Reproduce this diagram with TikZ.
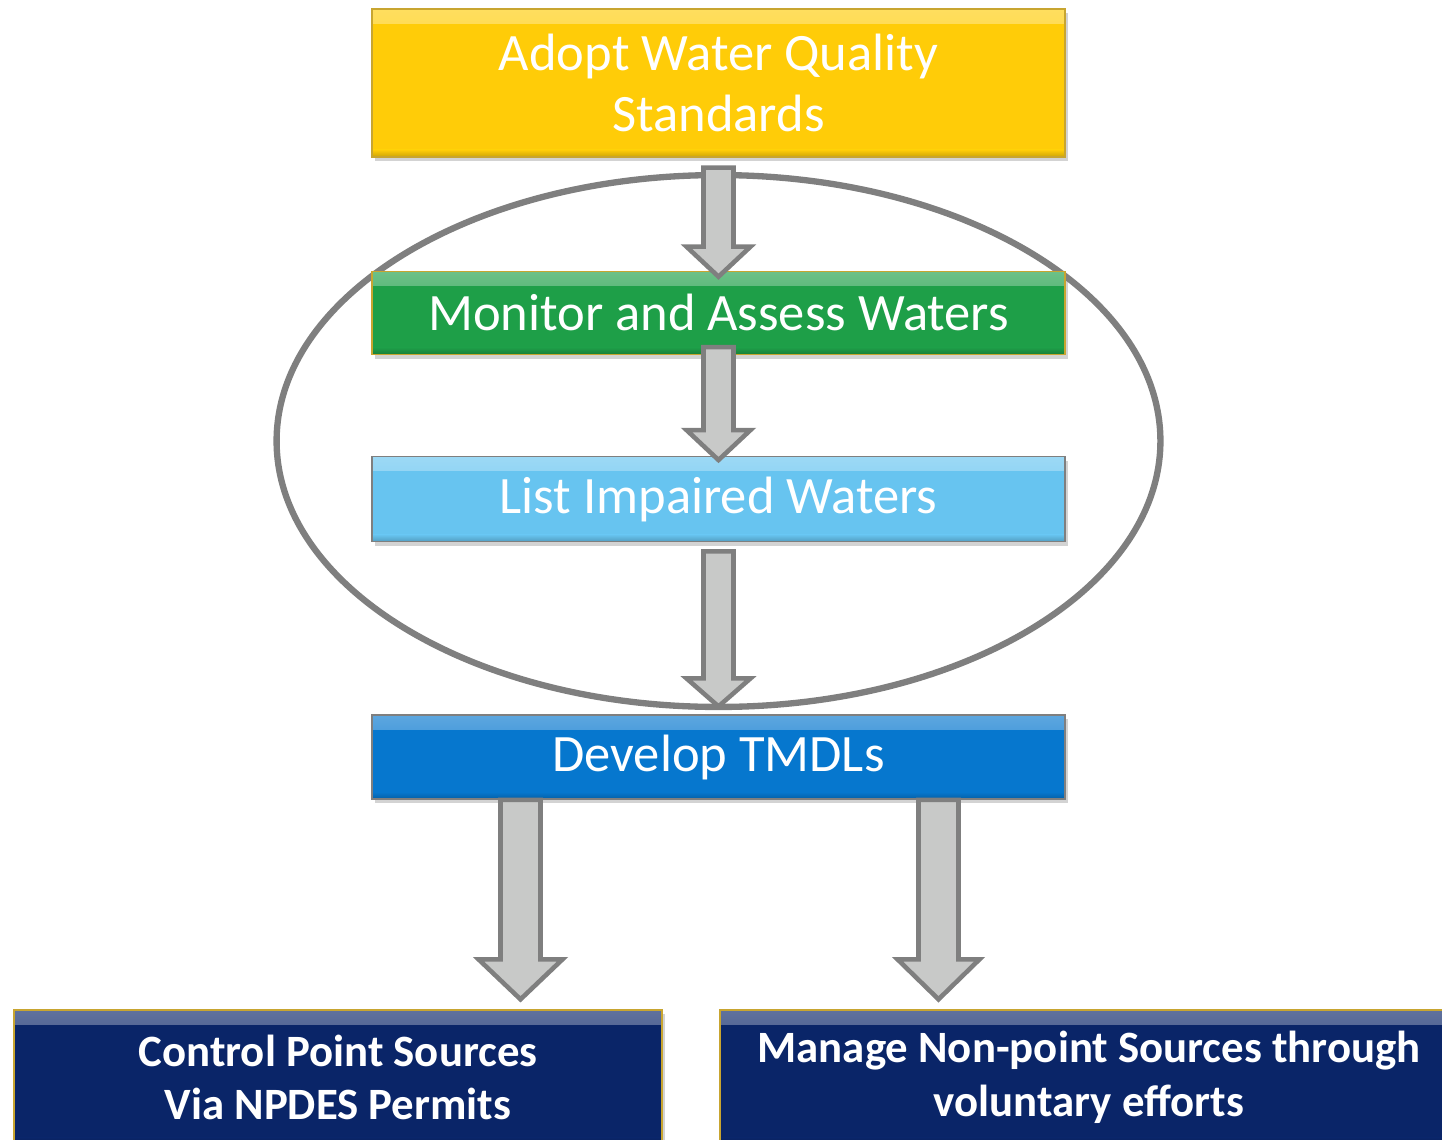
\documentclass[tikz,border=0pt]{standalone}
\usepackage{fontspec}
\setmainfont{Carlito}
\usetikzlibrary{positioning,calc,shadows}
\definecolor{stdyellow}{HTML}{FFCC08}
\definecolor{monigreen}{HTML}{1E9F48}
\definecolor{listblue}{HTML}{67C4F0}
\definecolor{tmdlblue}{HTML}{0677CE}
\definecolor{srcnavy}{HTML}{0A2568}
\definecolor{goldline}{HTML}{C8A530}
\definecolor{ringgray}{HTML}{7F7F7F}
\definecolor{arrowfill}{HTML}{C8C9C8}
\tikzset{every picture/.style={thick}}
\tikzset{flow box/.style 2 args={draw=#2, line width=0.8pt, fill=#1, text=white,
    align=center, inner sep=0pt, minimum width=13.86cm,
    drop shadow={opacity=0.35,shadow xshift=1.5pt,shadow yshift=-2.5pt},
    path picture={
      \shade[top color=#1!65!white, bottom color=#1]
        (path picture bounding box.north west) rectangle ([yshift=-8pt]path picture bounding box.north east);
      \shade[top color=#1, bottom color=#1!80!black]
        ([yshift=4pt]path picture bounding box.south west) rectangle (path picture bounding box.south east);}}}
\tikzset{big text/.style={font=\fontsize{29.9}{35}\selectfont}}
\tikzset{bold text/.style={font=\fontsize{25.5}{30.6}\selectfont\bfseries}}
\tikzset{block arrow/.style={draw=ringgray, fill=arrowfill, line width=2.6pt, line join=miter}}
\tikzset{ring/.style={draw=ringgray, line width=3.6pt}}
% start, tip, shaft half width, head half width, head length
\newcommand{\blockarrow}[5]{%
  \draw[block arrow] ($(#1)+(-#3,0)$) -- ($(#2)+(-#3,-#5)$) -- ($(#2)+(-#4,-#5)$) -- (#2)
    -- ($(#2)+(#4,-#5)$) -- ($(#2)+(#3,-#5)$) -- ($(#1)+(#3,0)$) -- cycle;}

\begin{document}
\begin{tikzpicture}[x=0.02cm,y=-0.02cm]
  \useasboundingbox (0,0) rectangle (1442,1139);
  \clip (0,0) rectangle (1442,1139);
  \draw[ring] (718.5,441) ellipse [x radius=8.84cm, y radius=5.32cm];

  \node[flow box={stdyellow}{goldline}, big text, minimum height=2.96cm] (adopt) at (718.5,83)
    {Adopt Water Quality\\Standards};
  \node[flow box={monigreen}{goldline}, big text, minimum height=1.66cm, below=2.26cm of adopt] (monitor)
    {Monitor and Assess Waters};
  \node[flow box={listblue}{ringgray}, big text, minimum height=1.70cm, below=2.02cm of monitor] (listw)
    {List Impaired Waters};
  \node[flow box={tmdlblue}{ringgray}, big text, minimum height=1.68cm, below=3.44cm of listw] (tmdl)
    {Develop TMDLs};
  \node[flow box={srcnavy}{goldline}, bold text, minimum width=12.96cm, minimum height=2.7cm] (point)
    at (338,1077.5) {Control Point Sources\\Via NPDES Permits};
  \node[flow box={srcnavy}{goldline}, bold text, minimum width=14.76cm, minimum height=2.7cm] (nonpoint)
    at (1089,1077.5) {Manage Non-point Sources through\\voluntary efforts};

  \coordinate (s1) at ($(adopt.south)+(0,10)$);
  \coordinate (t1) at ($(monitor.north)+(0,6)$);
  \coordinate (s2) at ($(monitor.south)+(0,-8)$);
  \coordinate (t2) at ($(listw.north)+(0,4)$);
  \coordinate (s3) at ($(listw.south)+(0,9)$);
  \coordinate (t3) at ($(tmdl.north)+(0,-8)$);
  \coordinate (s4) at ($(tmdl.south)+(-198,0)$);
  \coordinate (t4) at ($(s4 |- point.north)+(0,-10)$);
  \coordinate (s5) at ($(tmdl.south)+(220,0)$);
  \coordinate (t5) at ($(s5 |- nonpoint.north)+(0,-10)$);
  \blockarrow{s1}{t1}{15}{32}{30}
  \blockarrow{s2}{t2}{15}{32}{30}
  \blockarrow{s3}{t3}{15}{32}{28}
  \blockarrow{s4}{t4}{20}{42}{40}
  \blockarrow{s5}{t5}{20}{41}{40}
\end{tikzpicture}
\end{document}
